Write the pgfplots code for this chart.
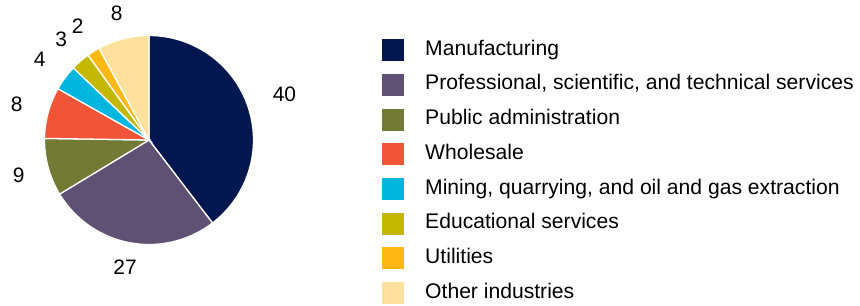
\documentclass[border=0pt]{standalone}
\usepackage{fontspec}
\setmainfont{Liberation Sans}
\usepackage{pgfplots}
\pgfplotsset{compat=1.18}
\definecolor{cMan}{HTML}{021650}
\definecolor{cPro}{HTML}{5F5173}
\definecolor{cPub}{HTML}{727A36}
\definecolor{cWho}{HTML}{F05538}
\definecolor{cMin}{HTML}{00B6DE}
\definecolor{cEdu}{HTML}{C4B700}
\definecolor{cUti}{HTML}{FDB814}
\definecolor{cOth}{HTML}{FFE19E}
\def\curang{90}
\def\pietotal{101}
% #1 value, #2 colour, #3 legend text, #4 label radius
\newcommand\pieslice[4]{%
  \pgfmathsetmacro\endang{\curang-#1/\pietotal*360}%
  \edef\doplot{\noexpand\addplot[fill=#2, draw=white, line width=1.3bp, domain=\endang:\curang, samples=80]
    ({149+104.5*cos(x)},{164+104.5*sin(x)}) -- (axis cs:149,164) -- cycle;}%
  \doplot
  \addlegendentry{#3}%
  \pgfmathsetmacro\midang{(\curang+\endang)/2}%
  \pgfmathsetmacro\lx{149+#4*cos(\midang)}%
  \pgfmathsetmacro\ly{164+#4*sin(\midang)}%
  \edef\donode{\noexpand\node[font=\noexpand\fontsize{21}{25}\noexpand\selectfont, inner sep=0pt] at (axis cs:\lx,\ly) {#1};}%
  \donode
  \global\let\curang\endang
}
\begin{document}
\begin{tikzpicture}
\begin{axis}[
  width=860bp, height=304bp, scale only axis, hide axis,
  xmin=0, xmax=860, ymin=0, ymax=304, clip=false,
  legend cell align=left,
  legend image code/.code={\fill[#1,draw=none] (0bp,-11bp) rectangle (22bp,11bp);},
  legend style={at={(axis cs:382,266)}, anchor=north west, draw=none, fill=none,
    inner sep=0pt, font=\fontsize{21.2}{25}\selectfont, row sep=10.7bp, column sep=19bp,
    nodes={inner sep=2bp, text depth=5bp, text height=15bp}},
]
\path (axis cs:0,0) rectangle (axis cs:860,304);
\pieslice{40}{cMan}{Manufacturing}{143}
\pieslice{27}{cPro}{Professional, scientific, and technical services}{129}
\pieslice{9}{cPub}{Public administration}{135}
\pieslice{8}{cWho}{Wholesale}{137}
\pieslice{4}{cMin}{Mining, quarrying, and oil and gas extraction}{136}
\pieslice{3}{cEdu}{Educational services}{134}
\pieslice{2}{cUti}{Utilities}{134}
\pieslice{8}{cOth}{Other industries}{131}
\end{axis}
\end{tikzpicture}
\end{document}
